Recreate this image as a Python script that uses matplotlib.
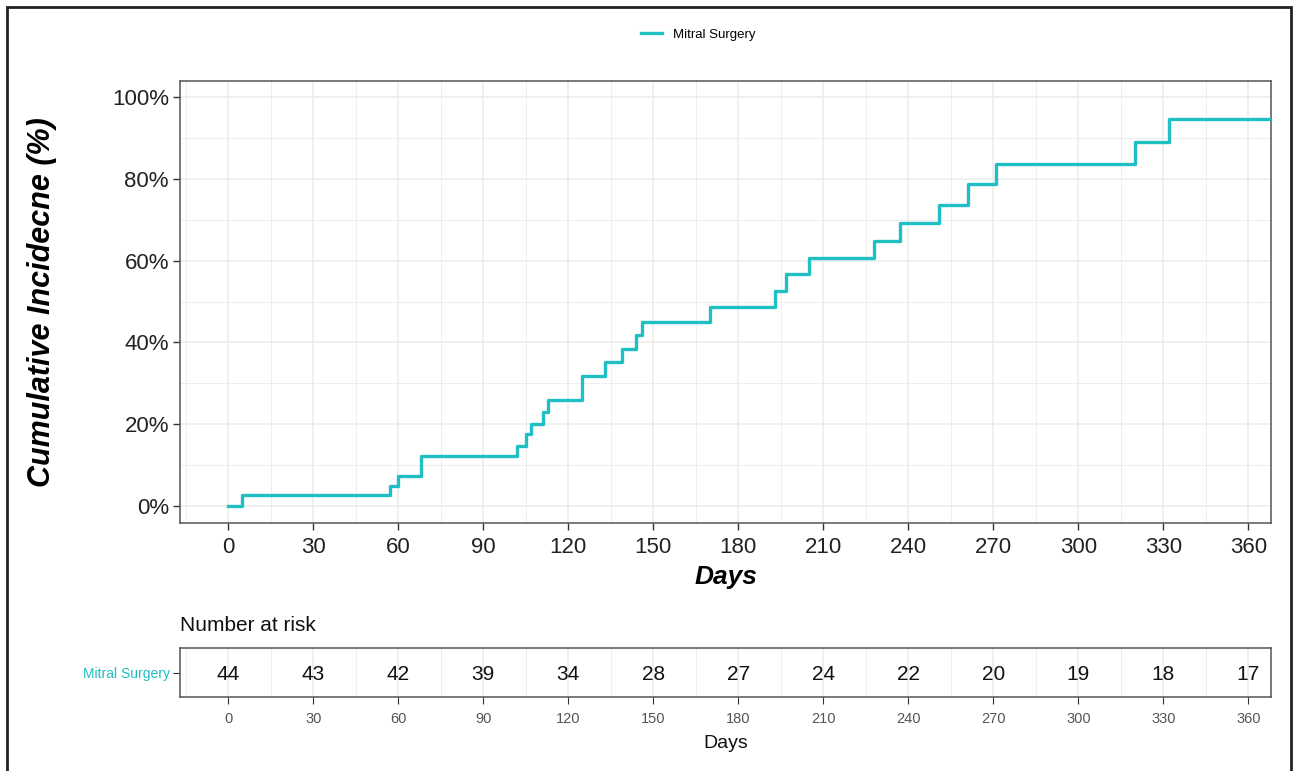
import matplotlib
matplotlib.use('Agg')
import matplotlib.pyplot as plt
import matplotlib.patches as patches
from matplotlib.ticker import MultipleLocator, FuncFormatter

plt.rcParams['font.family'] = ['Liberation Sans', 'DejaVu Sans']

# Cumulative incidence steps (day of event, % after event)
event_days = [0, 5, 57, 60, 68, 102, 105, 107, 111, 113, 125, 133, 139, 144, 146,
              170, 193, 197, 205, 228, 237, 251, 261, 271, 320, 332]
cum_incidence = [0, 2.7, 4.8, 7.4, 12.3, 14.7, 17.6, 20.1, 23.0, 25.8, 31.9, 35.1, 38.4,
                 41.7, 45.0, 48.7, 52.7, 56.7, 60.7, 64.8, 69.2, 73.6, 78.7, 83.8, 89.1, 94.8]
last_followup = 370

risk_times = [0, 30, 60, 90, 120, 150, 180, 210, 240, 270, 300, 330, 360]
n_at_risk = [44, 43, 42, 39, 34, 28, 27, 24, 22, 20, 19, 18, 17]
group = 'Mitral Surgery'

W, H = 1293, 771
line_color = '#1FBFC4'
grid_color = '#EBEBEB'
spine_color = '#555555'

fig = plt.figure(figsize=(W / 100, H / 100), dpi=100)
fig.patch.set_facecolor('white')


def px_axes(left, top, right, bottom):
    return fig.add_axes([left / W, 1 - bottom / H, (right - left) / W, (bottom - top) / H])


# Main panel
ax = px_axes(180, 81, 1271, 523)
xs = event_days + [last_followup]
ys = cum_incidence + [cum_incidence[-1]]
ax.step(xs, ys, where='post', color=line_color, linewidth=2.4, label=group, zorder=3)

ax.set_xlim(-17, 368)
ax.set_ylim(-4.2, 104)
ax.xaxis.set_major_locator(MultipleLocator(30))
ax.xaxis.set_minor_locator(MultipleLocator(15))
ax.yaxis.set_major_locator(MultipleLocator(20))
ax.yaxis.set_minor_locator(MultipleLocator(10))
ax.yaxis.set_major_formatter(FuncFormatter(lambda v, p: f'{v:.0f}%'))
ax.grid(True, which='major', color=grid_color, linewidth=1.1, zorder=0)
ax.grid(True, which='minor', color=grid_color, linewidth=0.6, zorder=0)
ax.tick_params(which='minor', length=0)
ax.tick_params(which='major', length=5, width=1, color='#333333',
               labelsize=16, labelcolor='#222222', pad=3)
ax.tick_params(axis='x', pad=5)
for s in ax.spines.values():
    s.set_color(spine_color)
    s.set_linewidth(1.1)

ax.set_xlabel('Days', fontsize=19, fontweight='bold', fontstyle='italic', labelpad=5)
ax.set_ylabel('Cumulative Incidecne (%)', fontsize=22, fontweight='bold', fontstyle='italic')
ax.yaxis.set_label_coords(-0.113, 0.5)

fig.legend(loc='center', bbox_to_anchor=(0.54, 1 - 35 / H), frameon=False,
           fontsize=9.5, handlelength=1.6, handletextpad=0.8)

# Risk table
rt = px_axes(180, 648, 1271, 697)
for t, n in zip(risk_times, n_at_risk):
    rt.text(t, 0.45, str(n), ha='center', va='center', fontsize=15, color='#111111')
rt.set_xlim(-17, 368)
rt.set_ylim(0, 1)
rt.xaxis.set_major_locator(MultipleLocator(30))
rt.xaxis.set_minor_locator(MultipleLocator(15))
rt.set_yticks([0.5])
rt.set_yticklabels([group])
rt.grid(True, which='major', axis='x', color=grid_color, linewidth=1.1, zorder=0)
rt.grid(True, which='minor', axis='x', color=grid_color, linewidth=0.6, zorder=0)
rt.tick_params(which='minor', length=0)
rt.tick_params(axis='x', which='major', length=5, color='#333333',
               labelsize=10.5, labelcolor='#555555', pad=6)
rt.tick_params(axis='y', length=5, color='#333333', labelsize=10, labelcolor=line_color, pad=2)
for s in rt.spines.values():
    s.set_color(spine_color)
    s.set_linewidth(1.1)
rt.set_xlabel('Days', fontsize=14, color='#111111', labelpad=6)
rt.set_title('Number at risk', loc='left', fontsize=15, color='#111111', pad=12)

# Outer frame around the picture
fig.patches.append(patches.Rectangle((7 / W, -0.05), 1284 / W, (H - 7) / H + 0.05,
                                     transform=fig.transFigure, fill=False,
                                     edgecolor='#222222', linewidth=2))

fig.savefig('out.png', dpi=100, facecolor='white')
plt.close(fig)
